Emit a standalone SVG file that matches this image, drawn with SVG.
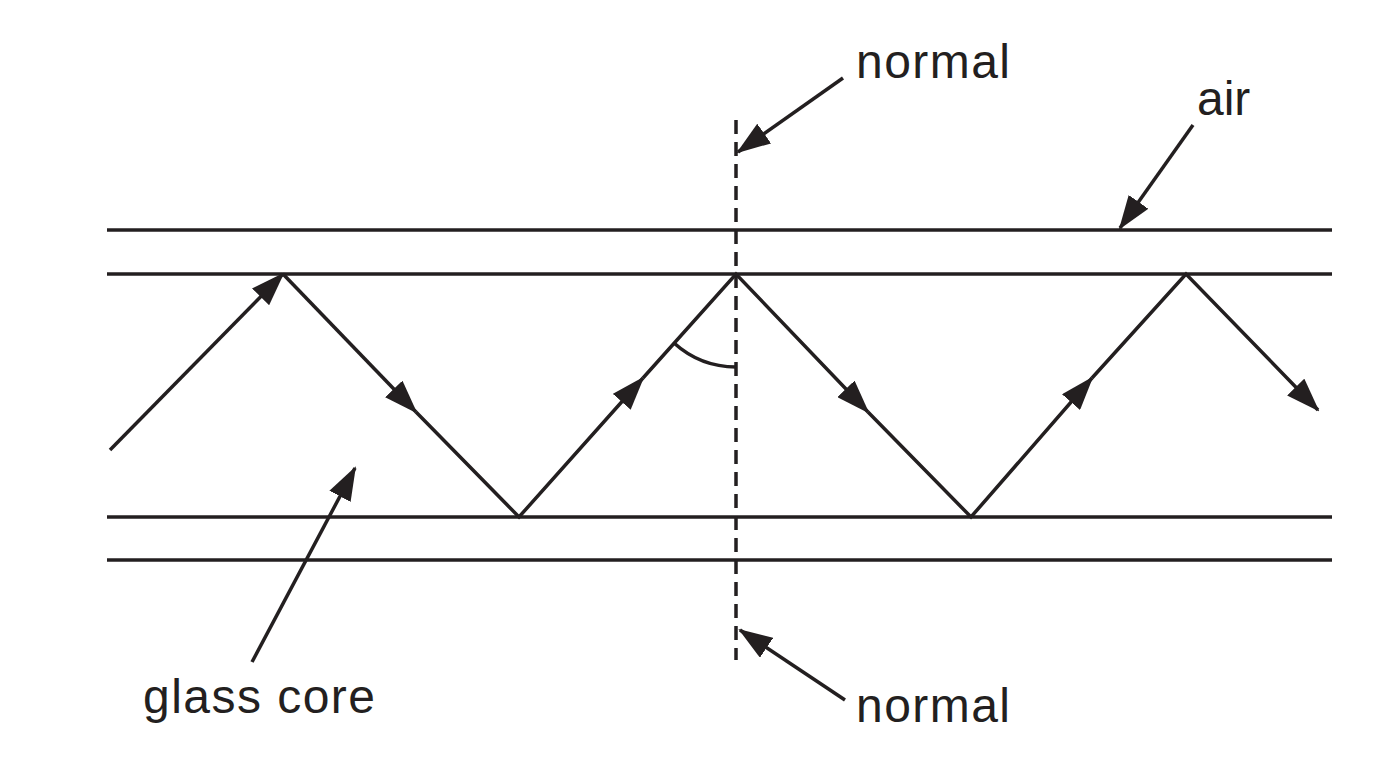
<svg xmlns="http://www.w3.org/2000/svg" width="1376" height="768" viewBox="0 0 1376 768">
<style>
.l{stroke:#231f20;stroke-width:3.5;fill:none}
.t{font-family:"Liberation Sans",Arial,sans-serif;font-size:48px;fill:#231f20}
</style>
<defs>
<marker id="a" markerUnits="userSpaceOnUse" markerWidth="34" markerHeight="24" refX="32" refY="12" orient="auto"><path d="M0,0 L34,12 L0,24 Z" fill="#231f20"/></marker>
</defs>
<rect width="1376" height="768" fill="#fff"/>
<g id="fibre">
<line class="l" x1="107" y1="230" x2="1332" y2="230"/>
<line class="l" x1="107" y1="274" x2="1332" y2="274"/>
<line class="l" x1="107" y1="517" x2="1332" y2="517"/>
<line class="l" x1="107" y1="560" x2="1332" y2="560"/>
</g>
<g id="normal-line"><line class="l" x1="736" y1="120" x2="736" y2="660" stroke-dasharray="14,8"/></g>
<g id="angle"><path class="l" d="M674,343 A93,93 0 0 0 736,367" stroke-width="2.5"/></g>
<g id="connectors">
<path class="l" d="M110,450 L283,274" marker-end="url(#a)"/>
<path class="l" d="M283,274 L416,412" marker-end="url(#a)"/>
<path class="l" d="M416,412 L519,517 L643,378" marker-end="url(#a)"/>
<path class="l" d="M643,378 L736,274 L868,412" marker-end="url(#a)"/>
<path class="l" d="M868,412 L971,517 L1092,378" marker-end="url(#a)"/>
<path class="l" d="M1092,378 L1186,274 L1318,410" marker-end="url(#a)"/>
<path class="l" d="M843,78 L738,152" marker-end="url(#a)"/>
<path class="l" d="M1193,125 L1120,228" marker-end="url(#a)"/>
<path class="l" d="M252,662 L355,468" marker-end="url(#a)"/>
<path class="l" d="M845,700 L740,630" marker-end="url(#a)"/>
</g>
<g id="labels">
<text class="t" x="856" y="78" textLength="154">normal</text>
<text class="t" x="1197" y="115">air</text>
<text class="t" x="143" y="713" textLength="232">glass core</text>
<text class="t" x="856" y="722" textLength="154">normal</text>
</g>
</svg>
